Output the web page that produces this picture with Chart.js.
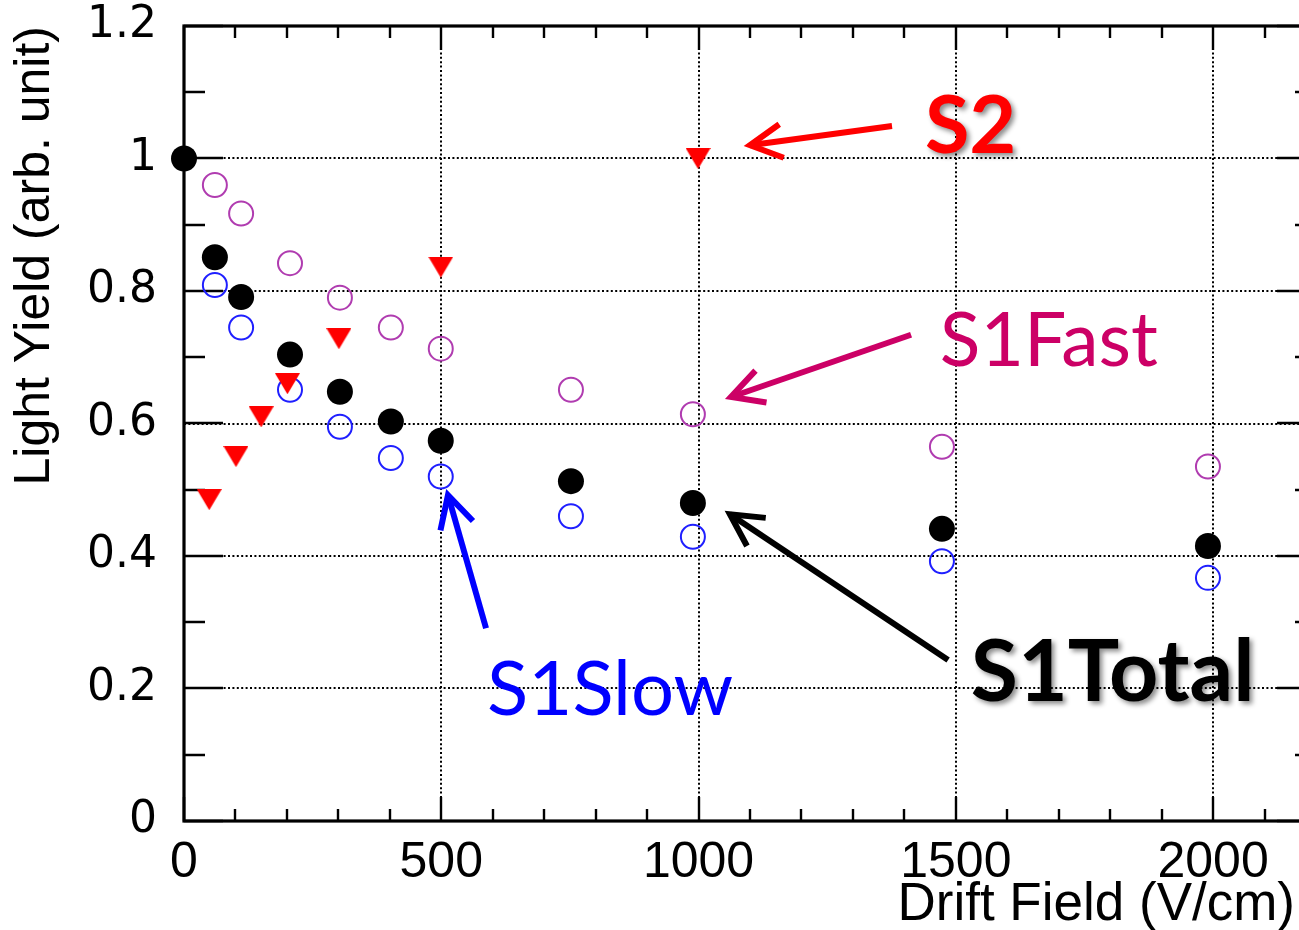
<!DOCTYPE html>
<html>
<head>
<meta charset="utf-8">
<title>Light Yield vs Drift Field</title>
<script src="https://cdn.jsdelivr.net/npm/chart.js@4.4.0/dist/chart.umd.min.js"></script>
<style>
  html, body { margin: 0; padding: 0; background: #ffffff; overflow: hidden; }
  #wrap { width: 1299px; height: 930px; overflow: hidden; position: relative; }
  canvas { display: block; }
</style>
</head>
<body>
<div id="wrap"><canvas id="chart" width="1320" height="930"></canvas></div>
<script>
// ---- data: drift field (V/cm) and normalised light yield ----
const s1Field     = [0, 60, 111, 206, 303, 402, 499, 752, 989, 1473, 1990];
const s1Total     = [1.0, 0.851, 0.791, 0.704, 0.648, 0.603, 0.574, 0.513, 0.480, 0.441, 0.415];
const s1PartField = [60, 111, 206, 303, 402, 499, 752, 989, 1473, 1990];
const s1Fast      = [0.960, 0.917, 0.842, 0.790, 0.745, 0.713, 0.651, 0.614, 0.565, 0.535];
const s1Slow      = [0.809, 0.745, 0.651, 0.595, 0.548, 0.520, 0.460, 0.429, 0.392, 0.367];
const s2Field     = [49, 101, 150, 201, 301, 499, 999];
const s2          = [0.485, 0.550, 0.610, 0.660, 0.728, 0.836, 1.0];

// ---- axes ----
const xRange = [0, 2200];
const yRange = [0, 1.2];
const xTicks = [0, 500, 1000, 1500, 2000];
const yTicks = [0, 0.2, 0.4, 0.6, 0.8, 1, 1.2];
const xMinorStep = 100;
const yMinorStep = 0.1;

const xTitle = 'Drift Field (V/cm)';
const yTitle = 'Light Yield (arb. unit)';

// ---- callout labels with arrows, placed in data coordinates ----
const callouts = [
  { text: 'S2',      color: '#ff0000', bold: true,  size: 81, shadow: true,
    at: [1440, 1.008], tail: [1376, 1.049], tip: [1100, 1.020], lw: 6 },
  { text: 'S1Fast',  color: '#cc0066', bold: false, size: 75, shadow: false,
    at: [1469, 0.687], tail: [1413, 0.734], tip: [1063, 0.640], lw: 6 },
  { text: 'S1Slow',  color: '#0000ff', bold: false, size: 76, shadow: false,
    at: [589, 0.160],  tail: [587, 0.291],  tip: [513, 0.492],  lw: 6 },
  { text: 'S1Total', color: '#000000', bold: true,  size: 86, shadow: true,
    at: [1529, 0.181], tail: [1485, 0.243], tip: [1061, 0.463], lw: 6 }
];

const pairs = (xs, ys) => xs.map((x, i) => ({ x: x, y: ys[i] }));

// downward triangle marker, centred on its bounding box
function downTriangle(w, h, color) {
  const c = document.createElement('canvas');
  c.width = w; c.height = h;
  const g = c.getContext('2d');
  g.fillStyle = color;
  g.beginPath();
  g.moveTo(0, 0); g.lineTo(w, 0); g.lineTo(w / 2, h);
  g.closePath(); g.fill();
  return c;
}

// frame, inward ticks on all four sides and dotted grid
const framePlugin = {
  id: 'frame',
  beforeDatasetsDraw(chart) {
    const { ctx, chartArea: a, scales: { x, y } } = chart;
    ctx.save();

    // dotted grid at the labelled values
    ctx.strokeStyle = '#000';
    ctx.lineWidth = 2;
    ctx.setLineDash([2, 2.4]);
    xTicks.forEach(v => {
      if (v <= x.min || v >= x.max) return;
      const px = Math.round(x.getPixelForValue(v));
      ctx.beginPath(); ctx.moveTo(px, a.top); ctx.lineTo(px, a.bottom); ctx.stroke();
    });
    yTicks.forEach(v => {
      if (v <= y.min || v >= y.max) return;
      const py = Math.round(y.getPixelForValue(v));
      ctx.beginPath(); ctx.moveTo(a.left, py); ctx.lineTo(a.right, py); ctx.stroke();
    });
    ctx.setLineDash([]);

    // tick marks
    ctx.strokeStyle = '#000';
    ctx.lineWidth = 2.4;
    const nx = Math.round((x.max - x.min) / xMinorStep);
    for (let k = 0; k <= nx; k++) {
      const v = x.min + k * xMinorStep;
      const major = xTicks.some(t => Math.abs(t - v) < 1e-6);
      const len = major ? 24 : 12;
      const px = Math.round(x.getPixelForValue(v));
      ctx.beginPath();
      ctx.moveTo(px, a.bottom); ctx.lineTo(px, a.bottom - len);
      ctx.moveTo(px, a.top); ctx.lineTo(px, a.top + len);
      ctx.stroke();
    }
    const ny = Math.round((y.max - y.min) / yMinorStep);
    for (let k = 0; k <= ny; k++) {
      const v = y.min + k * yMinorStep;
      const major = yTicks.some(t => Math.abs(t - v) < 1e-6);
      const len = major ? 39 : 21;
      const py = Math.round(y.getPixelForValue(v));
      ctx.beginPath();
      ctx.moveTo(a.left, py); ctx.lineTo(a.left + len, py);
      ctx.moveTo(a.right, py); ctx.lineTo(a.right - len, py);
      ctx.stroke();
    }

    // frame
    ctx.lineWidth = 3.2;
    ctx.strokeRect(a.left, a.top, a.right - a.left, a.bottom - a.top);

    // x axis title, right aligned under the last labels
    ctx.fillStyle = '#000';
    ctx.font = '53px "Liberation Sans", Arial, sans-serif';
    ctx.textAlign = 'right';
    ctx.textBaseline = 'alphabetic';
    ctx.fillText(xTitle, chart.width - 25, a.bottom + 99);
    ctx.restore();
  }
};

// text callouts and their arrows
const calloutPlugin = {
  id: 'callouts',
  afterDatasetsDraw(chart) {
    const { ctx, scales: { x, y } } = chart;
    const P = d => [x.getPixelForValue(d[0]), y.getPixelForValue(d[1])];
    ctx.save();
    callouts.forEach(c => {
      const [tx, ty] = P(c.tail);
      const [hx, hy] = P(c.tip);
      const ang = Math.atan2(ty - hy, tx - hx);
      const barb = 36, spread = 28 * Math.PI / 180;
      ctx.strokeStyle = c.color;
      ctx.lineWidth = c.lw;
      ctx.lineCap = 'butt';
      ctx.lineJoin = 'miter';
      ctx.beginPath();
      ctx.moveTo(tx, ty); ctx.lineTo(hx, hy);
      ctx.stroke();
      ctx.beginPath();
      ctx.moveTo(hx + barb * Math.cos(ang + spread), hy + barb * Math.sin(ang + spread));
      ctx.lineTo(hx, hy);
      ctx.lineTo(hx + barb * Math.cos(ang - spread), hy + barb * Math.sin(ang - spread));
      ctx.stroke();

      const [lx, ly] = P(c.at);
      ctx.font = (c.bold ? 'bold ' : '') + c.size + 'px Lato, "Open Sans", sans-serif';
      ctx.textAlign = 'left';
      ctx.textBaseline = 'alphabetic';
      ctx.fillStyle = c.color;
      if (c.shadow) {
        ctx.shadowColor = 'rgba(0,0,0,0.45)';
        ctx.shadowBlur = 5;
        ctx.shadowOffsetX = 3;
        ctx.shadowOffsetY = 3;
      }
      ctx.fillText(c.text, lx, ly);
      ctx.shadowColor = 'transparent';
      ctx.shadowBlur = 0; ctx.shadowOffsetX = 0; ctx.shadowOffsetY = 0;
    });
    ctx.restore();
  }
};

// keep the plot area fixed: no extra label padding around the axes
function noPadding(s) {
  s.paddingTop = 0; s.paddingBottom = 0; s.paddingLeft = 0; s.paddingRight = 0;
}

function build() {
  const tri = downTriangle(25, 21, '#ff0000');
  new Chart(document.getElementById('chart'), {
    type: 'scatter',
    data: {
      datasets: [
        { label: 'S2', data: pairs(s2Field, s2), pointStyle: tri, pointRadius: 13,
          backgroundColor: '#ff0000', borderColor: '#ff0000', clip: false },
        { label: 'S1Total', data: pairs(s1Field, s1Total), pointStyle: 'circle', pointRadius: 13,
          backgroundColor: '#000000', borderColor: '#000000', borderWidth: 0, clip: false },
        { label: 'S1Slow', data: pairs(s1PartField, s1Slow), pointStyle: 'circle', pointRadius: 12,
          backgroundColor: 'rgba(0,0,0,0)', borderColor: '#1f1fff', borderWidth: 2, clip: false },
        { label: 'S1Fast', data: pairs(s1PartField, s1Fast), pointStyle: 'circle', pointRadius: 12,
          backgroundColor: 'rgba(0,0,0,0)', borderColor: '#b03cb0', borderWidth: 2, clip: false }
      ]
    },
    options: {
      responsive: false,
      devicePixelRatio: 1,
      animation: false,
      events: [],
      layout: { autoPadding: false, padding: { top: 26, right: 4, bottom: 0, left: 0 } },
      plugins: { legend: { display: false }, tooltip: { enabled: false } },
      elements: { point: { hoverRadius: 13 } },
      scales: {
        x: {
          type: 'linear', position: 'bottom', min: xRange[0], max: xRange[1],
          afterBuildTicks: s => { s.ticks = xTicks.map(v => ({ value: v })); },
          afterFit: s => { s.height = 109; noPadding(s); },
          grid: { display: false, drawTicks: false },
          border: { display: false },
          ticks: {
            color: '#000', padding: 12, maxRotation: 0, autoSkip: false,
            font: { family: '"Liberation Sans", Arial, sans-serif', size: 50 },
            callback: v => String(v)
          }
        },
        y: {
          type: 'linear', position: 'left', min: yRange[0], max: yRange[1],
          afterBuildTicks: s => { s.ticks = yTicks.map(v => ({ value: v })); },
          afterFit: s => { s.width = 184; noPadding(s); },
          grid: { display: false, drawTicks: false },
          border: { display: false },
          ticks: {
            color: '#000', padding: 27, autoSkip: false,
            font: { family: '"DejaVu Sans", sans-serif', size: 44 },
            callback: v => String(v)
          },
          title: {
            display: true, text: yTitle, align: 'end', color: '#000',
            font: { family: '"Liberation Sans", Arial, sans-serif', size: 50 },
            padding: { top: 5, bottom: 0 }
          }
        }
      }
    },
    plugins: [framePlugin, calloutPlugin]
  });
}

const fontLoads = document.fonts ? Promise.all([
  document.fonts.load('bold 80px Lato'),
  document.fonts.load('80px Lato'),
  document.fonts.load('50px "Liberation Sans"'),
  document.fonts.load('44px "DejaVu Sans"')
]).catch(() => null) : Promise.resolve();
fontLoads.then(build, build);
</script>
</body>
</html>
